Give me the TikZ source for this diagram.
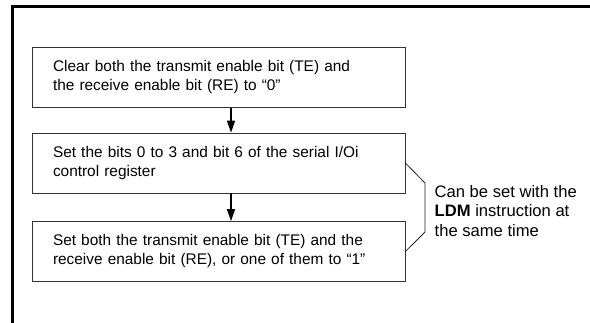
\documentclass[tikz,border=0pt]{standalone}
\usepackage{fontspec}
\setmainfont{Liberation Sans}
\usetikzlibrary{arrows.meta}
\begin{document}
\begin{tikzpicture}[x=1pt,y=-1pt,
  stepbox/.style={draw=black!80,line width=0.8pt,minimum width=373pt,minimum height=60pt,
    text width=331pt,inner xsep=21pt,align=left,font=\fontsize{15.4}{19}\selectfont},
  flowarrow/.style={line width=1.5pt,-{Triangle[length=12pt,width=8pt]}},
  bracket/.style={draw=black!85,line width=0.8pt}]
\useasboundingbox (0,0) rectangle (590,322);
\draw[line width=3pt] (12.5,330) -- (12.5,6.5) -- (595,6.5);
\node[stepbox] (b1) at (218.5,77.5) {Clear both the transmit enable bit (TE) and\\the receive enable bit (RE) to “0”};
\node[stepbox] (b2) at (218.5,163) {Set the bits 0 to 3 and bit 6 of the serial I/Oi\\control register};
\node[stepbox] (b3) at (218.5,251.5) {Set both the transmit enable bit (TE) and the\\receive enable bit (RE), or one of them to “1”};
\draw[flowarrow] (b1.south -| 231,0) -- (b2.north -| 231,0);
\draw[flowarrow] (b2.south -| 231,0) -- (b3.north -| 231,0);
\coordinate (br1) at (425,183);
\coordinate (br2) at (425,232);
\draw[bracket] (b2.east) -- (br1) -- (br2) -- (b3.east);
\node[anchor=west,inner sep=0pt,align=left,font=\fontsize{16.6}{19.2}\selectfont] (note) at (434.5,211)
  {Can be set with the\\\textbf{LDM} instruction at\\the same time};
\end{tikzpicture}
\end{document}
